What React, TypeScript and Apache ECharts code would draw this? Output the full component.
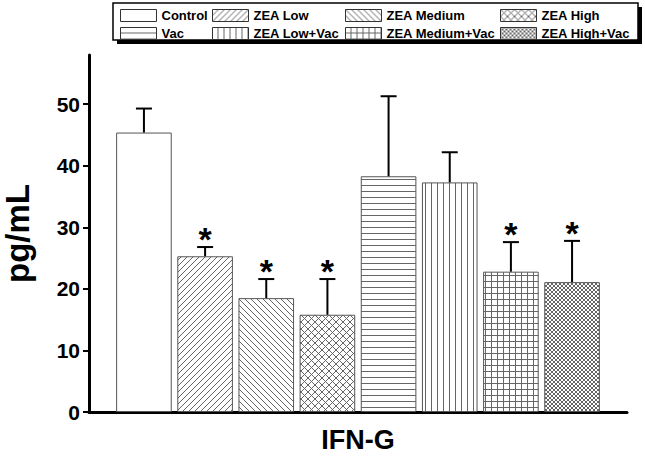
import React, { useEffect, useRef } from 'react';
import * as echarts from 'echarts';

const groups = ['Control', 'ZEA Low', 'ZEA Medium', 'ZEA High', 'Vac', 'ZEA Low+Vac', 'ZEA Medium+Vac', 'ZEA High+Vac'];
const means = [45.4, 25.3, 18.5, 15.8, 38.3, 37.3, 22.8, 21.1];
const sdUpper = [3.9, 1.5, 3.1, 5.8, 13.0, 4.9, 4.8, 6.7];
const significant = [false, true, true, true, false, false, true, true];
const category = ['IFN-G'];
const yTicks = [0, 10, 20, 30, 40, 50];
const legendColumns = [
  ['Control', 'Vac'],
  ['ZEA Low', 'ZEA Low+Vac'],
  ['ZEA Medium', 'ZEA Medium+Vac'],
  ['ZEA High', 'ZEA High+Vac'],
];
const patternKinds = ['none', 'fwd', 'back', 'xdiag', 'horiz', 'vert', 'grid', 'xdense'];

const FONT = '"Liberation Sans", Arial, Helvetica, sans-serif';
const BAR_W = 55.6;
const GAP_RATIO = 0.1;

function makePattern(kind: string): any {
  if (kind === 'none') return '#ffffff';
  const size = kind === 'xdense' ? 4 : kind === 'xdiag' ? 7 : 6;
  const c = document.createElement('canvas');
  c.width = size;
  c.height = size;
  const ctx = c.getContext('2d')!;
  ctx.fillStyle = '#ffffff';
  ctx.fillRect(0, 0, size, size);
  ctx.strokeStyle = '#666666';
  ctx.lineWidth = 1;
  const line = (x1: number, y1: number, x2: number, y2: number) => {
    ctx.beginPath();
    ctx.moveTo(x1, y1);
    ctx.lineTo(x2, y2);
    ctx.stroke();
  };
  const fwd = () => {
    line(-1, size + 1, size + 1, -1);
    line(-1, 1, 1, -1);
    line(size - 1, size + 1, size + 1, size - 1);
  };
  const back = () => {
    line(-1, -1, size + 1, size + 1);
    line(size - 1, -1, size + 1, 1);
    line(-1, size - 1, 1, size + 1);
  };
  switch (kind) {
    case 'fwd': fwd(); break;
    case 'back': back(); break;
    case 'xdiag':
    case 'xdense': fwd(); back(); break;
    case 'horiz': line(0, size - 0.5, size, size - 0.5); break;
    case 'vert': line(size - 0.5, 0, size - 0.5, size); break;
    case 'grid':
      line(0, size - 0.5, size, size - 0.5);
      line(size - 0.5, 0, size - 0.5, size);
      break;
  }
  return { image: c, repeat: 'repeat', imageWidth: size, imageHeight: size };
}

export default function App() {
  const ref = useRef<HTMLDivElement>(null);
  useEffect(() => {
    if (!ref.current) return;
    const chart = echarts.init(ref.current, null, { renderer: 'svg' });
    const patterns = patternKinds.map(makePattern);
    const legendLeft = [120, 212, 345, 500];

    const barSeries = groups.map((g, i) => ({
      name: g,
      type: 'bar',
      data: [means[i]],
      barWidth: BAR_W,
      barGap: GAP_RATIO * 100 + '%',
      itemStyle: { color: patterns[i], borderColor: '#555555', borderWidth: 1 },
      z: 2,
    }));

    const errorSeries = {
      type: 'custom',
      silent: true,
      z: 5,
      data: groups.map((g, i) => [0, means[i], means[i] + sdUpper[i], significant[i] ? 1 : 0, i]),
      renderItem: (params: any, api: any) => {
        const i = api.value(4);
        const base = api.coord([0, api.value(1)]);
        const top = api.coord([0, api.value(2)]);
        const pitch = BAR_W * (1 + GAP_RATIO);
        const x = base[0] + (i - (groups.length - 1) / 2) * pitch;
        const children: any[] = [
          { type: 'line', shape: { x1: x, y1: base[1], x2: x, y2: top[1] }, style: { stroke: '#000', lineWidth: 2 } },
          { type: 'line', shape: { x1: x - 8, y1: top[1], x2: x + 8, y2: top[1] }, style: { stroke: '#000', lineWidth: 2 } },
        ];
        if (api.value(3) === 1) {
          children.push({
            type: 'text',
            style: {
              text: '*', x, y: top[1] - 8, align: 'center', verticalAlign: 'middle',
              font: `bold 34px ${FONT}`, fill: '#000',
            },
          });
        }
        return { type: 'group', children };
      },
    };

    chart.setOption({
      animation: false,
      backgroundColor: '#ffffff',
      graphic: [
        { type: 'rect', z: 1, shape: { x: 117, y: 7, width: 525, height: 37 }, style: { fill: '#000' } },
        { type: 'rect', z: 2, shape: { x: 113, y: 3, width: 525, height: 37 }, style: { fill: '#fff', stroke: '#000', lineWidth: 1.5 } },
      ],
      legend: legendColumns.map((col, k) => ({
        data: col,
        orient: 'vertical',
        left: legendLeft[k],
        top: 9,
        padding: 0,
        itemWidth: 36,
        itemHeight: 12,
        itemGap: 5,
        icon: 'rect',
        selectedMode: false,
        z: 10,
        itemStyle: { borderColor: '#333', borderWidth: 1 },
        textStyle: { fontSize: 13, fontWeight: 'bold', color: '#000', fontFamily: FONT },
      })),
      grid: { left: 89, right: 18, top: 55, bottom: 51, containLabel: false, outerBoundsMode: 'none' },
      xAxis: {
        type: 'category',
        data: category,
        axisLine: { lineStyle: { color: '#000', width: 3 } },
        axisTick: { alignWithLabel: true, length: 6, lineStyle: { color: '#000', width: 2 } },
        axisLabel: { fontSize: 27, fontWeight: 'bold', color: '#000', fontFamily: FONT, margin: 14 },
      },
      yAxis: {
        type: 'value',
        min: 0,
        max: 58,
        interval: 10,
        name: 'pg/mL',
        nameLocation: 'middle',
        nameGap: 55,
        nameTextStyle: { fontSize: 33, fontWeight: 'bold', color: '#000', fontFamily: FONT },
        axisLine: { show: true, lineStyle: { color: '#000', width: 3 } },
        axisTick: { show: true, length: 6, customValues: yTicks, lineStyle: { color: '#000', width: 2 } },
        axisLabel: { customValues: yTicks, fontSize: 21, fontWeight: 'bold', color: '#000', fontFamily: FONT, margin: 9 },
        splitLine: { show: false },
      },
      series: [...barSeries, errorSeries],
    });
    return () => chart.dispose();
  }, []);
  return <div ref={ref} style={{ position: 'fixed', left: 0, top: 0, width: 645, height: 463 }} />;
}
